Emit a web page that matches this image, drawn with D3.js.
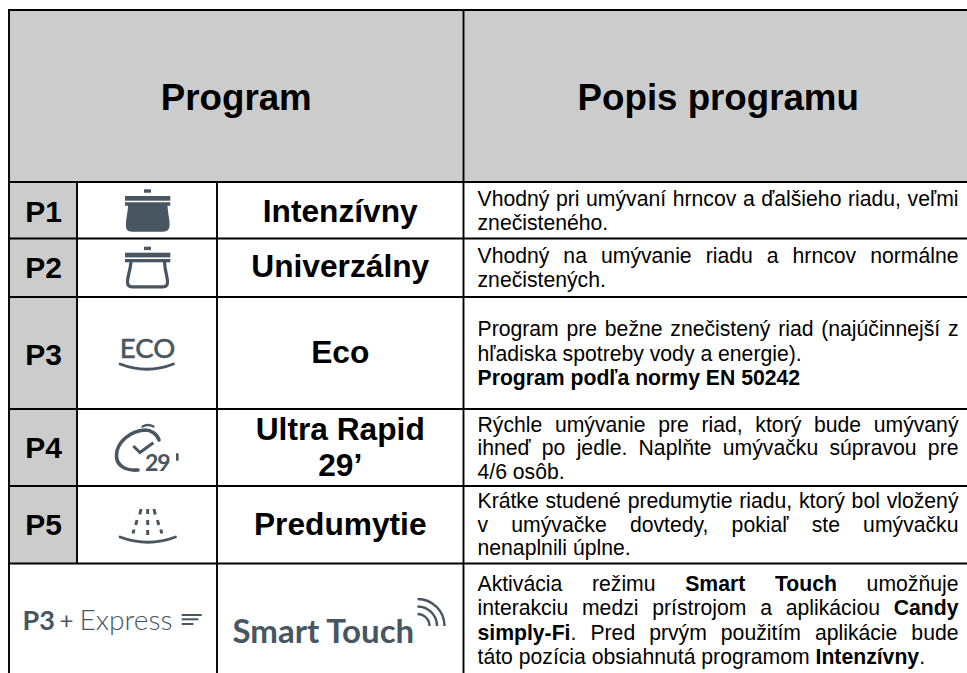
<!DOCTYPE html>
<html><head><meta charset="utf-8">
<script src="https://cdn.jsdelivr.net/npm/d3@7/dist/d3.min.js"></script>
<style>html,body{margin:0;padding:0;background:#fff;overflow:hidden}svg{display:block}text{font-family:"Liberation Sans",Arial,sans-serif}</style>
</head><body><svg id="c" width="967" height="673"></svg>
<script>
const codes=["P1","P2","P3","P4","P5"];
const names=[["Intenzívny"],["Univerzálny"],["Eco"],["Ultra Rapid","29’"],["Predumytie"]];
const headers=["Program","Popis programu"];
const descriptions=[
 [{j:1,r:[["Vhodný pri umývaní hrncov a ďalšieho riadu, veľmi",0]]},{r:[["znečisteného.",0]]}],
 [{j:1,r:[["Vhodný na umývanie riadu a hrncov normálne",0]]},{r:[["znečistených.",0]]}],
 [{j:1,r:[["Program pre bežne znečistený riad (najúčinnejší z",0]]},{r:[["hľadiska spotreby vody a energie).",0]]},{r:[["Program podľa normy EN 50242",1]]}],
 [{j:1,r:[["Rýchle umývanie pre riad, ktorý bude umývaný",0]]},{j:1,r:[["ihneď po jedle. Naplňte umývačku súpravou pre",0]]},{r:[["4/6 osôb.",0]]}],
 [{j:1,r:[["Krátke studené predumytie riadu, ktorý bol vložený",0]]},{j:1,r:[["v umývačke dovtedy, pokiaľ ste umývačku",0]]},{r:[["nenaplnili úplne.",0]]}],
 [{j:1,r:[["Aktivácia režimu ",0],["Smart Touch",1],[" umožňuje",0]]},{j:1,r:[["interakciu medzi prístrojom a aplikáciou ",0],["Candy",1]]},{j:1,r:[["simply-Fi",1],[". Pred prvým použitím aplikácie bude",0]]},{r:[["táto pozícia obsiahnutá programom ",0],["Intenzívny",1],[".",0]]}]
];
const rowEdges=[10,182,238.5,297,409,486,563.5,673];
const colEdges=[9,77,217,463.5,973];
const grey="#cccccc", ink="#000", icon="#475661";
const codeBase=[222,278,365,458,535];
const nameBase=[[222],[277],[363],[440,476],[535]];
const descBase=[[206,229.5],[263,287],[336,360.500,385],[431.500,455,478.500],[508,531.500,555],[590.500,615,639.500,664]];

const svg=d3.select("#c");
const y=i=>rowEdges[i], x=i=>colEdges[i];

svg.append("rect").attr("x",x(0)).attr("y",y(0)).attr("width",x(4)-x(0)).attr("height",y(1)-y(0)).attr("fill",grey);
svg.selectAll(".codecell").data(codes).join("rect").attr("x",x(0)).attr("y",(d,i)=>y(i+1)).attr("width",x(1)-x(0)).attr("height",(d,i)=>y(i+2)-y(i+1)).attr("fill",grey);

const gl=svg.append("g").attr("stroke",ink).attr("stroke-width",1.9);
rowEdges.slice(0,7).forEach(v=>gl.append("line").attr("x1",x(0)-1).attr("x2",967).attr("y1",v).attr("y2",v));
gl.append("line").attr("x1",x(0)).attr("x2",x(0)).attr("y1",y(0)).attr("y2",673);
gl.append("line").attr("x1",x(1)).attr("x2",x(1)).attr("y1",y(1)).attr("y2",y(6));
gl.append("line").attr("x1",x(2)).attr("x2",x(2)).attr("y1",y(1)).attr("y2",673);
gl.append("line").attr("x1",x(3)).attr("x2",x(3)).attr("y1",y(0)).attr("y2",673);

svg.selectAll(".hdr").data(headers).join("text").attr("x",(d,i)=>i?(x(3)+x(4))/2:(x(0)+x(3))/2).attr("y",110).attr("text-anchor","middle").attr("font-size",36.7).attr("font-weight","bold").text(d=>d);

svg.selectAll(".code").data(codes).join("text").attr("x",43.5).attr("y",(d,i)=>codeBase[i]).attr("text-anchor","middle").attr("font-size",30).attr("font-weight","bold").text(d=>d);

names.forEach((n,i)=>n.forEach((t,k)=>svg.append("text").attr("x",(x(2)+x(3))/2).attr("y",nameBase[i][k]).attr("text-anchor","middle").attr("font-size",31.7).attr("font-weight","bold").text(t)));

const fs=21.2, tx=477.5, tr=958.5;
descriptions.forEach((lines,ri)=>lines.forEach((ln,li)=>{
  const t=svg.append("text").attr("x",tx).attr("y",descBase[ri][li]).attr("font-size",fs).attr("fill","#000").style("white-space","pre");
  ln.r.forEach(([s,b])=>t.append("tspan").attr("font-weight",b?"bold":"normal").text(s));
  if(ln.j){
    const full=ln.r.map(r=>r[0]).join("");
    const spaces=(full.match(/ /g)||[]).length;
    const w=t.node().getComputedTextLength();
    t.attr("word-spacing",(tr-tx-w)/spaces);
  }
}));

const g=svg.append("g").attr("fill","none").attr("stroke",icon).attr("stroke-linecap","round");
const solid=(a,b,w,h)=>g.append("rect").attr("x",a).attr("y",b).attr("width",w).attr("height",h).attr("fill",icon).attr("stroke","none");
// P1 pot
solid(144,189.300,7,3.400); solid(125,196,45.300,4.700);
g.append("path").attr("fill",icon).attr("stroke","none").attr("d","M125 202.300H170.300V205.700H167.500C168 215 170 220 169.500 226C169 230 167 231.700 163 231.700H132C128 231.700 126 230 126 226C125.500 220 127.500 215 128 205.700H125Z");
// P2 pot
solid(144,246.700,7,3.400); solid(125,252.700,45.300,4.700); solid(125,259,45.300,3.300);
g.append("path").attr("stroke-width",3.200).attr("d","M131 262C130 272 127.500 276 127.500 282C127.500 285.500 129 286.800 132 286.800H163C166 286.800 167.500 285.500 167.500 282C167.500 276 165 272 164.500 262");
// ECO
svg.append("text").attr("x",147.500).attr("y",358.300).attr("text-anchor","middle").attr("font-size",27.500).style("font-family","Lato, sans-serif").attr("fill",icon).attr("stroke",icon).attr("stroke-width",.6).text("ECO");
g.append("path").attr("stroke-width",2.800).attr("d","M120 364Q147 374.500 173.500 364");
// stopwatch
g.append("path").attr("stroke-width",3.600).attr("d","M138 470C125 471 116 465 116.500 455C117 442 130 431 145 430C151 430 157 434 159 440");
g.append("path").attr("stroke-width",2.400).attr("d","M142.500 426.500Q148 423.500 153.500 426.500");
g.append("path").attr("stroke-width",3).attr("stroke-linecap","butt").attr("d","M133.300 446L140 452.500L153.300 442.700");
svg.append("text").attr("x",145).attr("y",470.700).attr("font-size",23).attr("letter-spacing",-1).style("font-family","Lato, sans-serif").attr("font-weight","bold").attr("fill",icon).text("29");
solid(176,453.300,2.600,7.400);
// prewash
g.append("path").attr("stroke-width",2.800).attr("d","M120 537Q148 547.500 175.500 537");
g.append("path").attr("stroke-width",3).attr("stroke-linecap","butt").attr("d","M147.700 509v5M147.700 520v5M147.700 530v5M141 509l-1.200 5.500M137 520l-1.200 5M134 529.500l-1 4M154 509l1.200 5.500M157.500 520l1.200 5M160.800 529.500l1 4");
// P3 + Express
svg.append("text").attr("x",22.500).attr("y",630).style("font-family","Lato, sans-serif").attr("font-size",27).attr("font-weight","bold").attr("fill",icon).text("P3");
svg.append("text").attr("x",66.500).attr("y",629).attr("text-anchor","middle").style("font-family","Lato, sans-serif").attr("font-size",24).attr("font-weight",400).attr("fill",icon).text("+");
svg.append("text").attr("x",79.500).attr("y",630).style("font-family","Lato, sans-serif").attr("font-size",28.200).attr("font-weight",300).attr("fill",icon).text("Express");
[[615,20],[619.300,16.700],[624,11.700]].forEach(([a,w])=>solid(181.700,a-1,w,2));
// Smart Touch
svg.append("text").attr("x",232.500).attr("y",643.300).style("font-family","Lato, sans-serif").attr("font-size",33).attr("font-weight","bold").attr("fill",icon).text("Smart Touch");
const arcs=svg.append("g").attr("fill","none").attr("stroke",icon).attr("stroke-width",2.400).attr("transform","translate(417.500,626)");
[12,19.500,27].forEach(r=>arcs.append("path").attr("d",d3.arc()({innerRadius:r,outerRadius:r,startAngle:0,endAngle:Math.PI/2})));
</script></body></html>
